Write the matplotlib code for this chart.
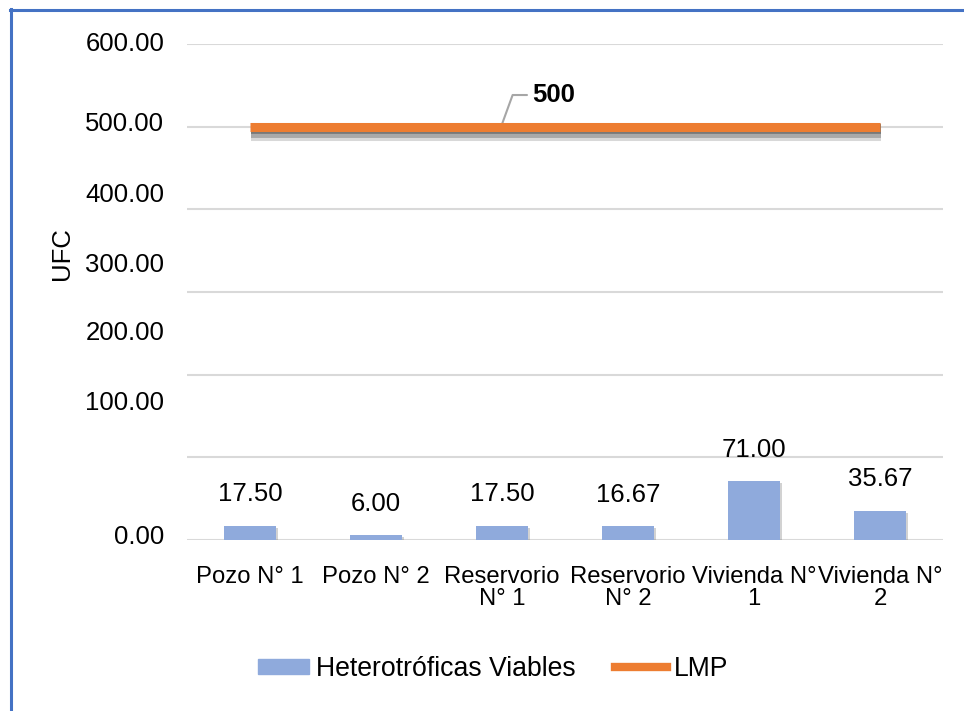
import numpy as np
import matplotlib
matplotlib.use('Agg')
import matplotlib.pyplot as plt
import matplotlib.patheffects as pe
from matplotlib.lines import Line2D

# sampling sites and measured counts
sites = ['Pozo N° 1', 'Pozo N° 2', 'Reservorio\nN° 1', 'Reservorio\nN° 2',
         'Vivienda N°\n1', 'Vivienda N°\n2']
heterotroficas = [17.50, 6.00, 17.50, 16.67, 71.00, 35.67]
lmp = [500, 500, 500, 500, 500, 500]

y_ticks = [0, 100, 200, 300, 400, 500, 600]
# heights where the y labels sit (they drift off the gridlines)
y_label_pos = [4, 166, 250, 333, 417, 503, 600]

BLUE = '#8FAADC'
ORANGE = '#ED7D31'
FS = 18.5

plt.rcParams['font.family'] = ['Liberation Sans', 'DejaVu Sans']

fig = plt.figure(figsize=(9.64, 7.11), dpi=100)
ax = fig.add_axes([187/964, 1 - 540/711, 756/964, 496/711])

x = np.arange(len(sites))

bars = ax.bar(x, heterotroficas, width=0.41, color=BLUE, zorder=3,
              path_effects=[pe.SimplePatchShadow(offset=(1.5, -1.5), shadow_rgbFace='gray', alpha=0.35),
                            pe.Normal()])

for xi, v in zip(x, heterotroficas):
    ax.annotate(f'{v:.2f}', (xi, v), xytext=(0, 14), textcoords='offset points',
                ha='center', va='bottom', fontsize=FS, color='black')

# limit line with a soft grey shadow underneath
shadow = [pe.SimpleLineShadow(offset=(1, -4), shadow_color='#808080', alpha=0.3, linewidth=13),
          pe.SimpleLineShadow(offset=(1, -3), shadow_color='#707070', alpha=0.45, linewidth=10),
          pe.SimpleLineShadow(offset=(1, -2), shadow_color='#505050', alpha=0.55, linewidth=7),
          pe.Normal()]
ax.plot(x, lmp, color=ORANGE, linewidth=6.5, solid_capstyle='butt', zorder=4,
        path_effects=shadow)

ax.annotate(f'{lmp[2]}', xy=(x[2], lmp[2] + 3), xytext=(22, 21), textcoords='offset points',
            ha='left', va='center', fontsize=FS, fontweight='bold',
            arrowprops=dict(arrowstyle='-', color='#A6A6A6', lw=1.5,
                            connectionstyle='angle,angleA=0,angleB=70,rad=0',
                            shrinkA=2, shrinkB=0))

ax.set_xlim(-0.5, len(sites) - 0.5)
ax.set_ylim(0, 600)
ax.set_yticks(y_ticks)
ax.set_yticklabels([])
ax.grid(axis='y', color='#D9D9D9', linewidth=1.5, zorder=0)
ax.set_axisbelow(True)
for s in ax.spines.values():
    s.set_visible(False)
ax.tick_params(length=0)

ax.set_xticks(x)
ax.set_xticklabels(sites, fontsize=17.2, linespacing=1.0)
ax.tick_params(axis='x', pad=19)

trans = ax.get_yaxis_transform()
for t, yp in zip(y_ticks, y_label_pos):
    ax.text(-0.03, yp, f'{t:.2f}', transform=trans, ha='right', va='center',
            fontsize=FS, clip_on=False)

fig.text(62/964, 1 - 254/711, 'UFC', rotation=90, ha='center', va='center', fontsize=FS)

handles = [plt.Rectangle((0, 0), 1, 1, color=BLUE),
           Line2D([0], [0], color=ORANGE, linewidth=6)]
fig.legend(handles, ['Heterotróficas Viables', 'LMP'], loc='center',
           bbox_to_anchor=(493/964, 1 - 669/711), ncol=2, frameon=False,
           fontsize=19.2, handlelength=1.93, handleheight=0.5, handletextpad=0.27,
           columnspacing=1.48)

# blue frame along the top and left edge
fig.add_artist(Line2D([11/964, 11/964], [0, 1 - 9/711], color='#4472C4', linewidth=2.2,
                      transform=fig.transFigure))
fig.add_artist(Line2D([10/964, 1], [1 - 10/711, 1 - 10/711], color='#4472C4', linewidth=2.2,
                      transform=fig.transFigure))

fig.savefig('out.png', dpi=100)
